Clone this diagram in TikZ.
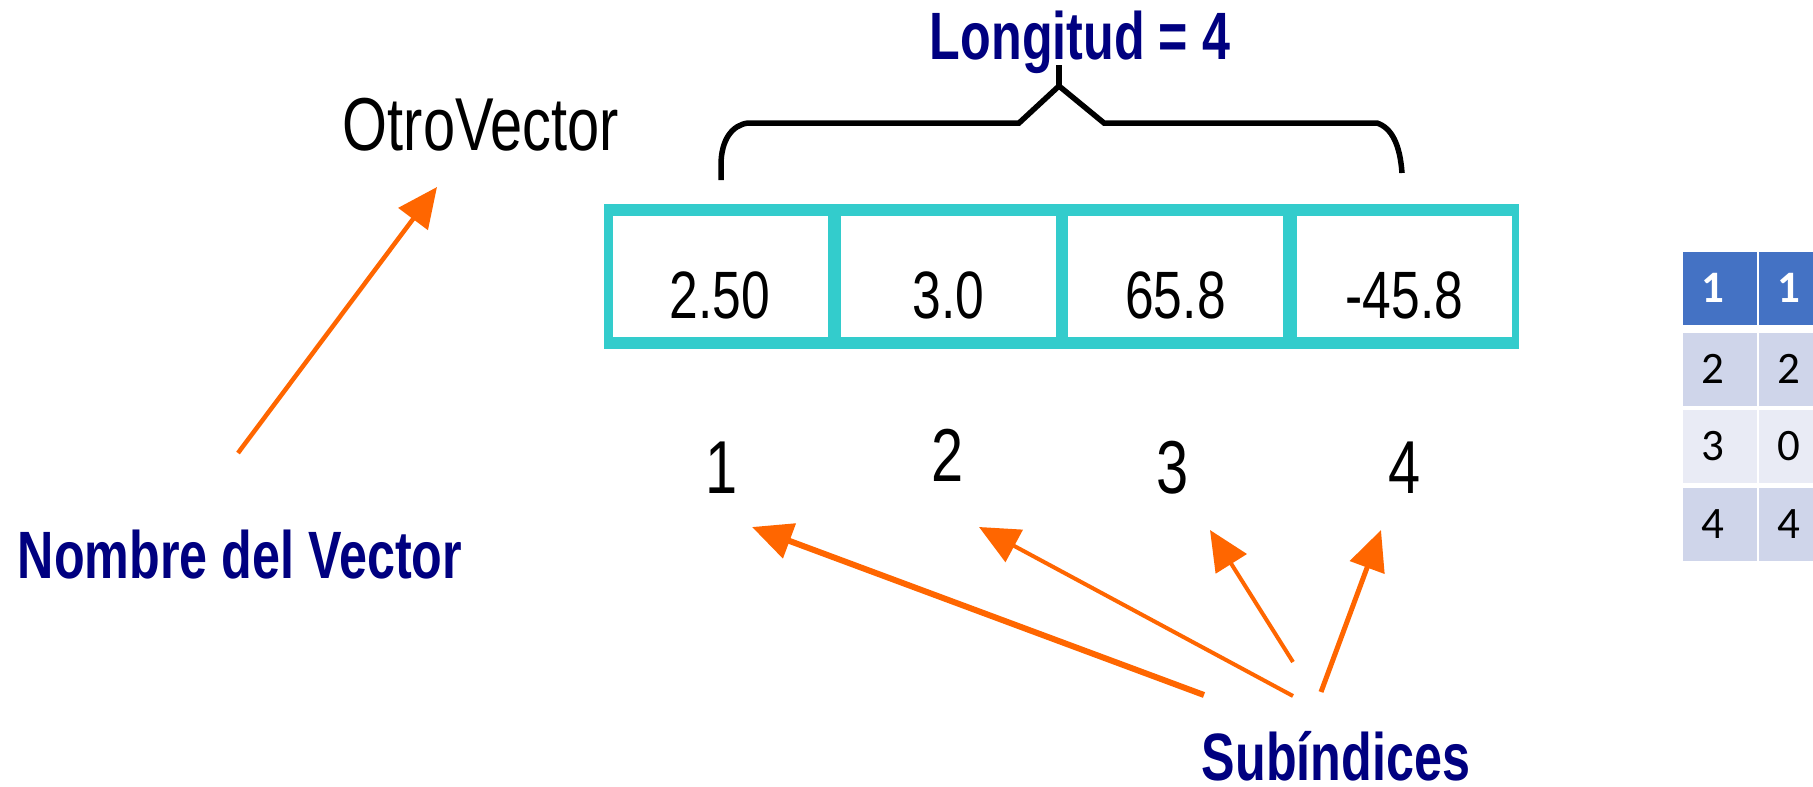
\documentclass[tikz,border=0pt]{standalone}
\usepackage{fontspec}
\usetikzlibrary{arrows.meta}
\newfontfamily\pixfont[FakeStretch=0.77]{Liberation Sans}
\newfontfamily\titlefont[FakeStretch=0.75]{Liberation Sans}
\newfontfamily\tabfont{Carlito}
\definecolor{vcyan}{HTML}{33CCCC}
\definecolor{vorange}{HTML}{FF6600}
\definecolor{vnavy}{HTML}{000080}
\definecolor{thead}{HTML}{4472C4}
\definecolor{tband}{HTML}{CFD5EA}
\definecolor{tlight}{HTML}{E9EBF5}
\begin{document}
\begin{tikzpicture}[x=1pt,y=-1pt,
  title/.style={font=\titlefont\bfseries\fontsize{67}{67}\selectfont, text=vnavy, inner sep=0pt, anchor=base},
  pix/.style={font=\pixfont\fontsize{75}{75}\selectfont, inner sep=0pt, anchor=base},
  val/.style={font=\pixfont\fontsize{67}{67}\selectfont, inner sep=0pt, anchor=base},
  frame/.style={fill=vcyan, minimum width=915pt, minimum height=145pt, inner sep=0pt},
  cell/.style={fill=white, minimum width=215pt, minimum height=121pt, inner sep=0pt},
  pointer/.style={draw=vorange, line width=#1, -{Triangle[length=40pt,width=36pt]}},
  pointer/.default=4pt,
  braceline/.style={draw=black, line width=5.5pt, line join=miter},
  tcell/.style={minimum width=74pt, minimum height=73pt, inner sep=0pt, text=black,
    font=\tabfont\fontsize{45}{45}\selectfont},
  thd/.style={tcell, fill=thead, text=white, font=\tabfont\bfseries\fontsize{45}{45}\selectfont},
  tbd/.style={tcell, fill=tband},
  tlt/.style={tcell, fill=tlight}]

\path[use as bounding box, fill=white] (0,0) rectangle (1813,787);

% vector name and its label
\node[pix] (name) at (481,150) {OtroVector};
\node[title] (namelbl) at (240,578) {Nombre del Vector};

% the vector itself: cyan frame with four cells
\node[frame] (vec) at (1061.5,276.5) {};
\node[cell] (c1) at (720,276.5) {};
\node[cell] (c2) at (948.5,276.5) {};
\node[cell] (c3) at (1175.5,276.5) {};
\node[cell] (c4) at (1404.5,276.5) {};
\node[val] (v1) at ([yshift=-41.5pt]c1.center) {2.50};
\node[val] (v2) at ([yshift=-41.5pt]c2.center) {3.0};
\node[val] (v3) at ([yshift=-41.5pt]c3.center) {65.8};
\node[val] (v4) at ([yshift=-41.5pt]c4.center) {-45.8};

% length brace and caption
\node[title] (len) at (1080,59) {Longitud = 4};
\draw[braceline] (721,180) -- (721,165) .. controls (721,140) and (732,125) .. (748,123)
  -- (1019,123) -- (1059,86) -- (1104,123) -- (1377,123)
  .. controls (1392,128) and (1400,145) .. (1402,173);
\draw[braceline] (1059,88) -- (1059,65);

% index labels
\node[pix] (i1) at (722,493) {1};
\node[pix] (i2) at (948,481) {2};
\node[pix] (i3) at (1173,493) {3};
\node[pix] (i4) at (1405,493) {4};
\node[title] (sub) at (1336,780) {Subíndices};

% arrow end points
\coordinate (nvTail) at (238,453);
\coordinate (nvTip) at (437,187);
\coordinate (s1Tail) at (1204,695);
\coordinate (s1Tip) at (752,527);
\coordinate (s2Tail) at (1293,696);
\coordinate (s2Tip) at (979,527);
\coordinate (s3Tail) at (1293,662);
\coordinate (s3Tip) at (1210,530);
\coordinate (s4Tail) at (1321,692);
\coordinate (s4Tip) at (1381,530);

\draw[pointer=4.5pt] (nvTail) -- (nvTip);
\draw[pointer=6pt] (s1Tail) -- (s1Tip);
\draw[pointer=4pt] (s2Tail) -- (s2Tip);
\draw[pointer=4pt] (s3Tail) -- (s3Tip);
\draw[pointer=5pt] (s4Tail) -- (s4Tip);

% small index table at the right edge
\node[thd] (t11) at (1720,288) {1\kern14pt};
\node[thd] (t12) at (1796,288) {1\kern14pt};
\node[tbd] (t21) at (1720,369) {2\kern14pt};
\node[tbd] (t22) at (1796,369) {2\kern14pt};
\node[tlt] (t31) at (1720,446) {3\kern14pt};
\node[tlt] (t32) at (1796,446) {0\kern14pt};
\node[tbd] (t41) at (1720,524) {4\kern14pt};
\node[tbd] (t42) at (1796,524) {4\kern14pt};
\end{tikzpicture}
\end{document}
